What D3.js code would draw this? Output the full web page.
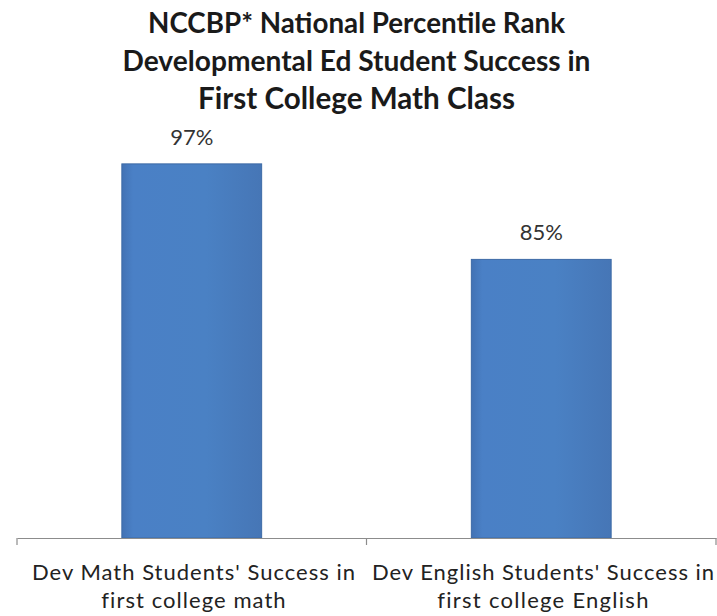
<!DOCTYPE html>
<html>
<head>
<meta charset="utf-8">
<script src="https://cdn.jsdelivr.net/npm/d3@7"></script>
<style>
  html, body { margin: 0; padding: 0; background: #ffffff; }
  svg { display: block; }
  text { font-family: Lato, "Open Sans", "DejaVu Sans", sans-serif; fill: #1a1a1a; }
</style>
</head>
<body>
<script>
const titleLines = [
  "NCCBP* National Percentile Rank",
  "Developmental Ed Student Success in",
  "First College Math Class"
];
const categories = [
  "Dev Math Students' Success in first college math",
  "Dev English Students' Success in first college English"
];
const categoryLines = [
  ["Dev Math Students' Success in", "first college math"],
  ["Dev English Students' Success in", "first college English"]
];
const values = [97, 85];
const valueLabels = ["97%", "85%"];
const yDomain = [50, 100];

const W = 717, H = 616;
const svg = d3.select("body").append("svg").attr("width", W).attr("height", H);

function fit(sel, base, target) {
  sel.style("font-size", base + "px");
  const len = sel.node().getComputedTextLength();
  sel.style("font-size", (base * target / len).toFixed(2) + "px");
}
function spread(sel, size, target) {
  sel.style("font-size", size + "px");
  const len = sel.node().getComputedTextLength();
  const n = sel.text().length;
  sel.style("letter-spacing", ((target - len) / n).toFixed(3) + "px");
}

// Title
const titleBaselines = [33, 71, 109];
const titleWidths = [417, 468, 317];
titleLines.forEach((t, i) => {
  const el = svg.append("text")
    .attr("x", 356.5).attr("y", titleBaselines[i])
    .attr("text-anchor", "middle")
    .style("font-weight", "700")
    .text(t);
  fit(el, 26, titleWidths[i]);
});

const x = d3.scaleBand().domain(categories).range([17, 716]).paddingInner(0.6).paddingOuter(0.3);
const y = d3.scaleLinear().domain(yDomain).range([538, 140]);

const defs = svg.append("defs");
const grad = defs.append("linearGradient").attr("id", "barGrad").attr("x1", 0).attr("x2", 1).attr("y1", 0).attr("y2", 0);
grad.append("stop").attr("offset", "0%").attr("stop-color", "#4272b4");
grad.append("stop").attr("offset", "8%").attr("stop-color", "#4a80c6");
grad.append("stop").attr("offset", "60%").attr("stop-color", "#4a81c4");
grad.append("stop").attr("offset", "100%").attr("stop-color", "#4676b6");

svg.selectAll("rect.bar").data(values).join("rect")
  .attr("class", "bar")
  .attr("x", (d, i) => x(categories[i]))
  .attr("y", d => y(d))
  .attr("width", x.bandwidth())
  .attr("height", d => y(yDomain[0]) - y(d))
  .attr("fill", "url(#barGrad)")
  .attr("stroke", "#3d6aa6")
  .attr("stroke-width", 1);

svg.selectAll("text.val").data(values).join("text")
  .attr("class", "val")
  .attr("x", (d, i) => x(categories[i]) + x.bandwidth() / 2)
  .attr("y", d => y(d) - 19)
  .attr("text-anchor", "middle")
  .style("font-size", "22px")
  .style("fill", "#333")
  .text((d, i) => valueLabels[i]);

const axis = svg.append("g").attr("transform", "translate(0,538)")
  .call(d3.axisBottom(x).tickSize(0).tickFormat(""));
axis.select(".domain").attr("stroke", "#8c8c8c").attr("stroke-width", 1.2);
const edges = [17, 17 + x.step(), 716];
axis.selectAll("line.sep").data(edges).join("line")
  .attr("class", "sep")
  .attr("x1", d => d).attr("x2", d => d)
  .attr("y1", 0).attr("y2", 7)
  .attr("stroke", "#8c8c8c").attr("stroke-width", 1.2);

const catWidths = [[324, 185], [343, 212]];
const catCenters = [194, 543.5];
categoryLines.forEach((lines, i) => {
  lines.forEach((ln, j) => {
    const el = svg.append("text")
      .attr("x", catCenters[i]).attr("y", 580 + j * 28)
      .attr("text-anchor", "middle")
      .style("fill", "#222")
      .text(ln);
    spread(el, 22, catWidths[i][j]);
  });
});
</script>
</body>
</html>
